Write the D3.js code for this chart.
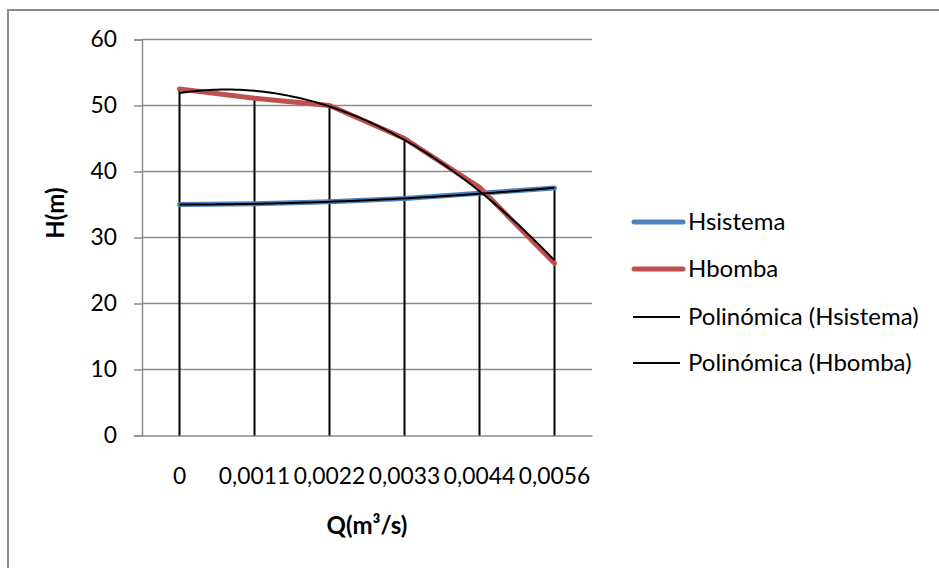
<!DOCTYPE html>
<html>
<head>
<meta charset="utf-8">
<script src="https://cdn.jsdelivr.net/npm/d3@7"></script>
<style>
  body { margin: 0; background: #fff; }
  svg text { font-family: Lato, "Open Sans", sans-serif; fill: #000; }
</style>
</head>
<body>
<script>
// data
const categories = ["0", "0,0011", "0,0022", "0,0033", "0,0044", "0,0056"];
const hsistema = [35.0, 35.1, 35.4, 35.9, 36.7, 37.5];
const hbomba = [52.5, 51.1, 50.0, 45.0, 37.6, 26.1];
const yTicks = [0, 10, 20, 30, 40, 50, 60];
const seriesNames = ["Hsistema", "Hbomba"];
const legendLabels = ["Hsistema", "Hbomba", "Polinómica (Hsistema)", "Polinómica (Hbomba)"];

const width = 939, height = 568;
const plot = {left: 142, right: 592, top: 39.5, bottom: 435.5};
const colors = {Hsistema: "#4F81BD", Hbomba: "#C0504D"};
const gridColor = "#8c8c8c";
const fontFamily = "Lato";
const fontSize = 24;
const tickFontSize = 22.8;

const svg = d3.select("body").append("svg")
  .attr("width", width)
  .attr("height", height);

// chart frame (cut off at right/bottom like the picture)
svg.append("rect")
  .attr("x", 8).attr("y", 10)
  .attr("width", 1000).attr("height", 700)
  .attr("fill", "none")
  .attr("stroke", gridColor)
  .attr("stroke-width", 2);

const x = d3.scaleBand().domain(categories).range([plot.left, plot.right]);
const y = d3.scaleLinear().domain([0, 60]).range([plot.bottom, plot.top]);
const cx = c => x(c) + x.bandwidth() / 2;

// gridlines
svg.append("g").selectAll("line")
  .data(yTicks.filter(d => d > 0))
  .enter().append("line")
  .attr("x1", plot.left).attr("x2", plot.right)
  .attr("y1", d => y(d)).attr("y2", d => y(d))
  .attr("stroke", gridColor).attr("stroke-width", 1.5);

// y axis
const yAxis = svg.append("g")
  .attr("transform", `translate(${plot.left},0)`)
  .call(d3.axisLeft(y).tickValues(yTicks).tickSize(8).tickPadding(17));
yAxis.select(".domain").attr("stroke", gridColor).attr("stroke-width", 1.5);
yAxis.selectAll(".tick line").attr("stroke", gridColor).attr("stroke-width", 1.5);
yAxis.selectAll("text").attr("font-size", tickFontSize).attr("font-family", fontFamily).attr("fill", "#000");

// x axis
const xAxis = svg.append("g")
  .attr("transform", `translate(0,${plot.bottom})`)
  .call(d3.axisBottom(x).tickSize(0).tickPadding(32));
xAxis.select(".domain").attr("stroke", gridColor).attr("stroke-width", 1.5);
xAxis.selectAll("text").attr("font-size", tickFontSize).attr("font-family", fontFamily).attr("fill", "#000");

// drop lines
svg.append("g").selectAll("line")
  .data(categories)
  .enter().append("line")
  .attr("x1", d => cx(d)).attr("x2", d => cx(d))
  .attr("y1", (d, i) => y(Math.max(hsistema[i], hbomba[i])))
  .attr("y2", plot.bottom)
  .attr("stroke", "#000").attr("stroke-width", 2);

// series lines
const line = d3.line().x(d => cx(d.c)).y(d => y(d.v));
const seriesData = [hsistema, hbomba];
seriesData.forEach((vals, s) => {
  svg.append("path")
    .datum(vals.map((v, i) => ({c: categories[i], v})))
    .attr("d", line)
    .attr("fill", "none")
    .attr("stroke", colors[seriesNames[s]])
    .attr("stroke-width", 5)
    .attr("stroke-linejoin", "round")
    .attr("stroke-linecap", "round");
});

// polynomial (order 2) trendlines, least squares over index 1..n
function quadFit(vals) {
  let S = [0, 0, 0, 0, 0], T = [0, 0, 0];
  vals.forEach((v, i) => {
    const t = i + 1;
    for (let k = 0; k < 5; k++) S[k] += Math.pow(t, k);
    for (let k = 0; k < 3; k++) T[k] += v * Math.pow(t, k);
  });
  const A = [[S[0], S[1], S[2]], [S[1], S[2], S[3]], [S[2], S[3], S[4]]];
  const det = m => m[0][0]*(m[1][1]*m[2][2]-m[1][2]*m[2][1]) - m[0][1]*(m[1][0]*m[2][2]-m[1][2]*m[2][0]) + m[0][2]*(m[1][0]*m[2][1]-m[1][1]*m[2][0]);
  const D = det(A);
  const coef = [0, 1, 2].map(j => det(A.map((row, r) => row.map((a, c) => c === j ? T[r] : a))) / D);
  return t => coef[0] + coef[1] * t + coef[2] * t * t;
}

const xi = d3.scaleLinear().domain([1, categories.length]).range([cx(categories[0]), cx(categories[categories.length - 1])]);
const trendLine = d3.line().x(d => xi(d[0])).y(d => y(d[1]));
seriesData.forEach(vals => {
  const f = quadFit(vals);
  const pts = d3.range(1, categories.length + 0.001, 0.05).map(t => [t, f(t)]);
  svg.append("path")
    .attr("d", trendLine(pts))
    .attr("fill", "none")
    .attr("stroke", "#000")
    .attr("stroke-width", 2);
});

// axis titles
svg.append("text")
  .attr("x", 367).attr("y", 534)
  .attr("text-anchor", "middle")
  .attr("font-size", fontSize).attr("font-weight", "bold")
  .text("Q(m³/s)");

svg.append("text")
  .attr("transform", "translate(64,213) rotate(-90)")
  .attr("text-anchor", "middle")
  .attr("font-size", fontSize).attr("font-weight", "bold")
  .text("H(m)");

// legend
const legend = svg.append("g");
const rowY = [222, 269, 317, 363];
legendLabels.forEach((lab, i) => {
  const g = legend.append("g").attr("transform", `translate(0,${rowY[i]})`);
  if (i < 2) {
    g.append("line")
      .attr("x1", 634).attr("x2", 683)
      .attr("stroke", colors[seriesNames[i]])
      .attr("stroke-width", 5).attr("stroke-linecap", "round");
  } else {
    g.append("line")
      .attr("x1", 633).attr("x2", 680)
      .attr("stroke", "#000").attr("stroke-width", 2);
  }
  g.append("text")
    .attr("x", 688).attr("y", 8)
    .attr("font-size", fontSize)
    .text(lab);
});
</script>
</body>
</html>
